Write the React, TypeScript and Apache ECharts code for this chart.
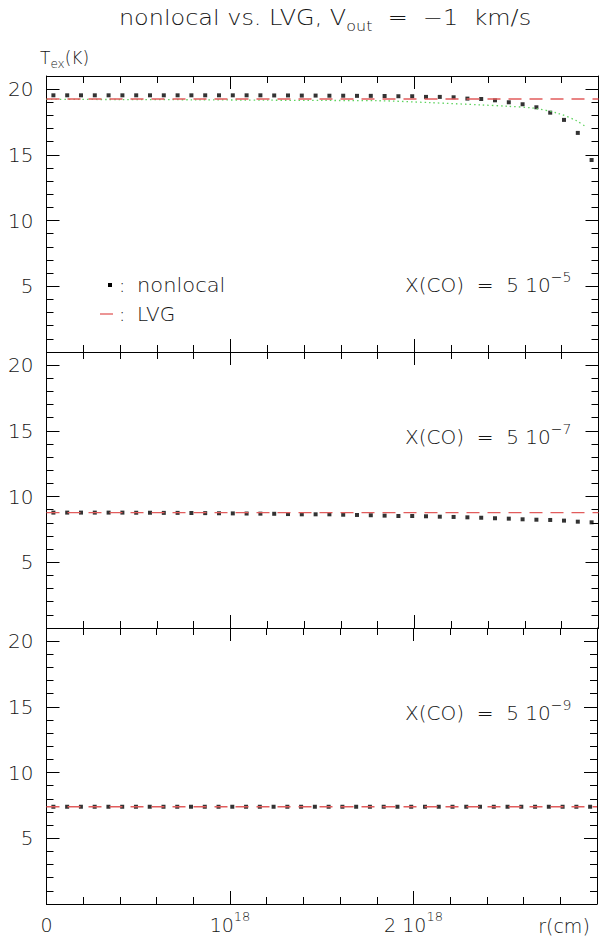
import { useEffect, useRef } from 'react';
import * as echarts from 'echarts';

// radius of each shell (units of 1e18 cm)
const R_SHELL = [
  0.0375, 0.1125, 0.1875, 0.2625, 0.3375, 0.4125, 0.4875, 0.5625, 0.6375, 0.7125,
  0.7875, 0.8625, 0.9375, 1.0125, 1.0875, 1.1625, 1.2375, 1.3125, 1.3875, 1.4625,
  1.5375, 1.6125, 1.6875, 1.7625, 1.8375, 1.9125, 1.9875, 2.0625, 2.1375, 2.2125,
  2.2875, 2.3625, 2.4375, 2.5125, 2.5875, 2.6625, 2.7375, 2.8125, 2.8875, 2.9625,
];
// nonlocal Tex, X(CO) = 5e-5
const T_NONLOCAL_5 = [
  19.53, 19.53, 19.53, 19.53, 19.53, 19.53, 19.53, 19.53, 19.53, 19.53,
  19.53, 19.53, 19.53, 19.53, 19.53, 19.53, 19.52, 19.52, 19.51, 19.51,
  19.5, 19.5, 19.49, 19.49, 19.48, 19.46, 19.46, 19.41, 19.41, 19.38,
  19.28, 19.25, 19.15, 19.0, 18.85, 18.62, 18.21, 17.66, 16.67, 14.61,
];
// nonlocal Tex, X(CO) = 5e-7
const T_NONLOCAL_7 = [
  8.78, 8.78, 8.78, 8.78, 8.78, 8.78, 8.77, 8.77, 8.76, 8.76,
  8.75, 8.74, 8.73, 8.72, 8.71, 8.7, 8.69, 8.67, 8.65, 8.65,
  8.65, 8.62, 8.6, 8.58, 8.55, 8.52, 8.52, 8.5, 8.47, 8.45,
  8.42, 8.39, 8.35, 8.32, 8.27, 8.24, 8.22, 8.17, 8.09, 8.04,
];
// nonlocal Tex, X(CO) = 5e-9
const T_NONLOCAL_9 = [
  7.4, 7.4, 7.4, 7.4, 7.4, 7.4, 7.4, 7.4, 7.4, 7.4,
  7.4, 7.4, 7.4, 7.4, 7.4, 7.4, 7.4, 7.4, 7.4, 7.4,
  7.4, 7.4, 7.4, 7.4, 7.4, 7.4, 7.4, 7.4, 7.4, 7.4,
  7.4, 7.4, 7.4, 7.4, 7.4, 7.4, 7.4, 7.4, 7.4, 7.4,
];
// LVG Tex
const R_LVG = [0, 3];
const T_LVG_5 = [19.25, 19.25];
const T_LVG_7 = [8.78, 8.78];
const T_LVG_9 = [7.4, 7.4];
// green dotted curve (top panel)
const R_GREEN = [0, 0.4, 0.8, 1.2, 1.5, 1.8, 2.09, 2.36, 2.5, 2.65, 2.78, 2.88, 2.93];
const T_GREEN_5 = [19.22, 19.21, 19.19, 19.16, 19.14, 19.12, 18.97, 18.8, 18.7, 18.55, 18.16, 17.6, 17.15];

// tick labels
const X_TICK_VALUES = [0, 1, 2];
const X_TICK_BASE = ['0', '10', '2 10'];
const X_TICK_EXP = ['', '18', '18'];
const Y_TICK_VALUES = [5, 10, 15, 20];
const PANEL_EXP = ['\u22125', '\u22127', '\u22129'];

const FONT = '"DejaVu Sans", sans-serif';
const TXT = '#151515';
const LVG_COLOR = '#e25c5c';
const GREEN_COLOR = '#5fd35f';

const PANEL_TOPS = [76, 352, 628];
const PANEL_H = 276;
const GRID_LEFT = 46.5;
const GRID_RIGHT = 1.5;

function buildOption() {
  const grid = PANEL_TOPS.map((t) => ({ left: GRID_LEFT, right: GRID_RIGHT, top: t, height: PANEL_H }));
  const lineStyle = { color: '#000', width: 1 };
  const xAxis: any[] = [];
  const yAxis: any[] = [];
  PANEL_TOPS.forEach((_, g) => {
    const mk = (position: string, interval: number, len: number, showLine: boolean, labels: boolean) => ({
      type: 'value', gridIndex: g, position, min: 0, max: 3, interval,
      axisLine: { show: showLine, onZero: false, lineStyle },
      axisTick: { show: true, inside: true, length: len, lineStyle },
      splitLine: { show: false },
      axisLabel: labels
        ? {
            show: true, margin: 6, color: TXT, fontFamily: FONT, fontWeight: 200,
            formatter: (v: number) => {
              const i = X_TICK_VALUES.findIndex((x) => Math.abs(x - v) < 1e-6);
              if (i < 0) return '';
              return X_TICK_EXP[i] ? `{b|${X_TICK_BASE[i]}}{s|${X_TICK_EXP[i]}}` : `{b|${X_TICK_BASE[i]}}`;
            },
            rich: {
              b: { fontSize: 19, lineHeight: 30, fontFamily: FONT, fontWeight: 200, color: TXT },
              s: { fontSize: 13, lineHeight: 13, verticalAlign: 'top', fontFamily: FONT, fontWeight: 200, color: TXT },
            },
          }
        : { show: false },
    });
    xAxis.push(mk('bottom', 0.2, 7, true, false));
    xAxis.push(mk('bottom', 1, 13, false, g === 2));
    xAxis.push(mk('top', 0.2, 7, true, false));
    xAxis.push(mk('top', 1, 13, false, false));
    const mky = (position: string, interval: number, len: number, showLine: boolean, labels: boolean) => ({
      type: 'value', gridIndex: g, position, min: 0, max: 21, interval,
      axisLine: { show: showLine, onZero: false, lineStyle },
      axisTick: { show: true, inside: true, length: len, lineStyle },
      splitLine: { show: false },
      axisLabel: labels
        ? {
            show: true, margin: 13, fontSize: 20, color: TXT, fontFamily: FONT, fontWeight: 200,
            formatter: (v: number) => (Y_TICK_VALUES.includes(v) ? String(v) : ''),
          }
        : { show: false },
    });
    yAxis.push(mky('left', 1, 7, true, false));
    yAxis.push(mky('left', 5, 13, false, true));
    yAxis.push(mky('right', 1, 7, true, false));
    yAxis.push(mky('right', 5, 13, false, false));
  });

  const nonlocal = [T_NONLOCAL_5, T_NONLOCAL_7, T_NONLOCAL_9];
  const lvg = [T_LVG_5, T_LVG_7, T_LVG_9];
  const series: any[] = [];
  series.push({
    type: 'line', xAxisIndex: 1, yAxisIndex: 1, symbol: 'none', smooth: 0.3,
    data: R_GREEN.map((r, i) => [r, T_GREEN_5[i]]),
    lineStyle: { color: GREEN_COLOR, width: 1.3, type: [1.5, 3] },
  });
  PANEL_TOPS.forEach((_, g) => {
    series.push({
      type: 'line', xAxisIndex: g * 4 + 1, yAxisIndex: g * 4 + 1, symbol: 'none',
      data: R_LVG.map((r, i) => [r, lvg[g][i]]),
      lineStyle: { color: LVG_COLOR, width: 1.3, type: [13, 8] },
    });
    series.push({
      type: 'scatter', xAxisIndex: g * 4 + 1, yAxisIndex: g * 4 + 1, symbol: 'rect', symbolSize: 4,
      itemStyle: { color: '#000' },
      data: R_SHELL.map((r, i) => [r, nonlocal[g][i]]),
    });
  });

  const txt = (x: number, y: number, text: string, extra: any = {}, scaleX = 1) => ({
    type: 'text', x, y, scaleX,
    style: { text, fontSize: 20, fontFamily: FONT, fontWeight: 200, fill: TXT, textAlign: 'left', textVerticalAlign: 'middle', ...extra },
  });
  const richSup = {
    a: { fontSize: 20, lineHeight: 30, fontFamily: FONT, fontWeight: 200, fill: TXT, color: TXT },
    s: { fontSize: 14, lineHeight: 14, verticalAlign: 'top', fontFamily: FONT, fontWeight: 200, fill: TXT, color: TXT },
  };
  const richSub = {
    a: { fontSize: 21, lineHeight: 30, fontFamily: FONT, fontWeight: 200, fill: TXT, color: TXT },
    s: { fontSize: 14, lineHeight: 14, verticalAlign: 'bottom', fontFamily: FONT, fontWeight: 200, fill: TXT, color: TXT },
  };
  const graphic: any[] = [
    txt(325, 18, '{a|nonlocal vs. LVG, V}{s|out}{a|  =  \u22121  km/s}', { textAlign: 'center', rich: richSub }, 1.14),
    txt(40, 58, '{a|T}{s|ex}{a|(K)}', { rich: { a: { ...richSub.a, fontSize: 17, lineHeight: 24 }, s: { ...richSub.s, fontSize: 12, lineHeight: 12 } } }),
    txt(564, 926, 'r(cm)', { textAlign: 'center', fontSize: 19 }),
    { type: 'rect', shape: { x: 108, y: 283, width: 4, height: 4 }, style: { fill: '#000' } },
    txt(122, 285, ':', { textAlign: 'center' }),
    txt(137, 285, 'nonlocal', {}, 1.05),
    { type: 'line', shape: { x1: 100, y1: 314, x2: 113, y2: 314 }, style: { stroke: LVG_COLOR, lineWidth: 1.3 } },
    txt(122, 314, ':', { textAlign: 'center' }),
    txt(137, 314, 'LVG'),
  ];
  const panelY = [285, 437, 713];
  PANEL_EXP.forEach((e, g) => {
    graphic.push(txt(405, panelY[g], `{a|X(CO)  =  5 10}{s|${e}}`, { rich: richSup }));
  });

  return { animation: false, backgroundColor: '#fff', grid, xAxis, yAxis, series, graphic };
}

export default function App() {
  const ref = useRef<HTMLDivElement>(null);
  useEffect(() => {
    const chart = echarts.init(ref.current!, null, { renderer: 'svg' });
    chart.setOption(buildOption() as any);
    return () => chart.dispose();
  }, []);
  return <div ref={ref} style={{ position: 'fixed', left: 0, top: 0, width: 600, height: 941, background: '#fff' }} />;
}
